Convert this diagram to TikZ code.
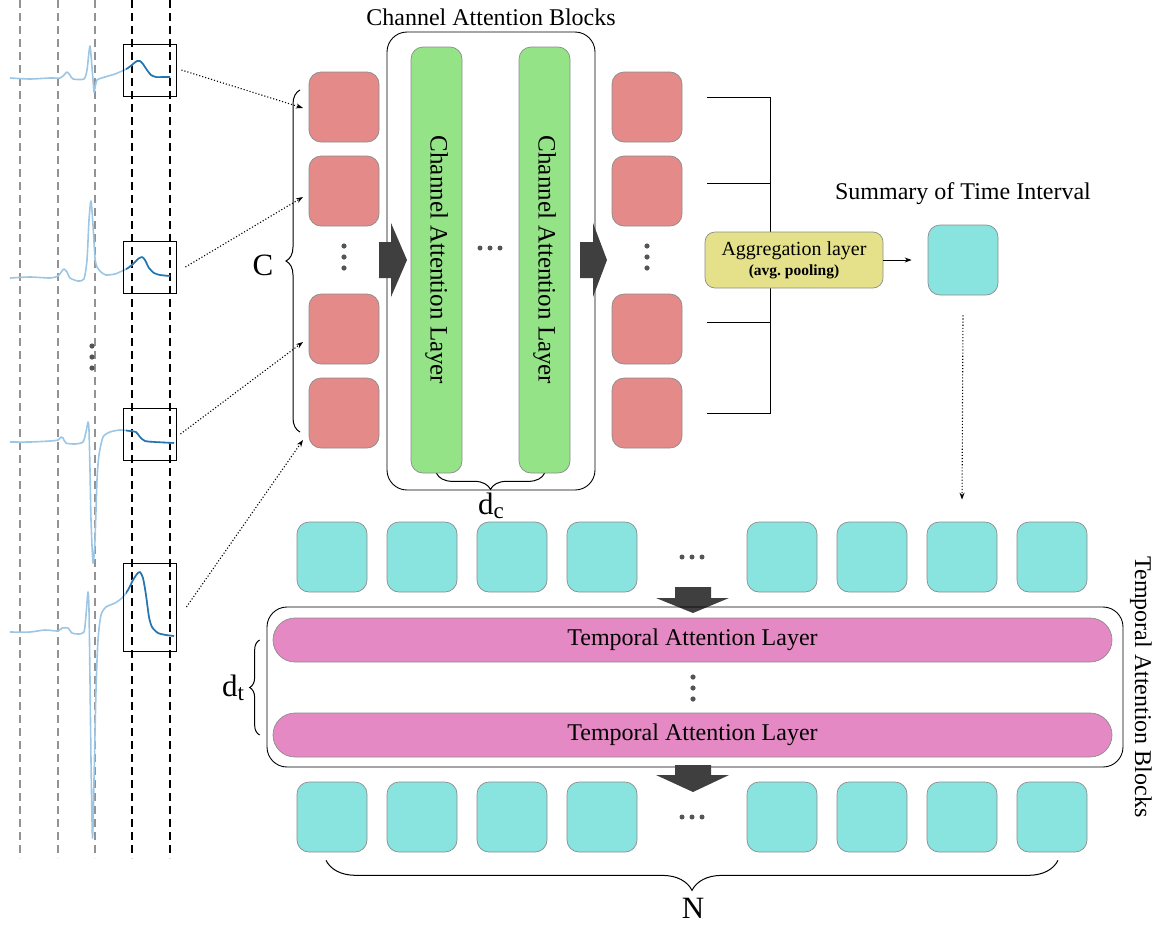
\documentclass[tikz,border=0pt]{standalone}
\usepackage{fontspec}
\setmainfont{Liberation Serif}
\usepackage{tikz}
\usetikzlibrary{positioning, arrows.meta, decorations.pathreplacing}

\definecolor{redtok}{HTML}{E48A88}
\definecolor{cyantok}{HTML}{89E4E0}
\definecolor{greenbar}{HTML}{94E387}
\definecolor{pinkbar}{HTML}{E589C4}
\definecolor{aggfill}{HTML}{E4E18A}
\definecolor{blockgray}{HTML}{3F3F3F}
\definecolor{dotgray}{HTML}{555555}
\definecolor{ecglight}{HTML}{9CC6E4}
\definecolor{ecgdark}{HTML}{2474B0}
\definecolor{edgegray}{HTML}{8C8C8C}

% ecg leads, one per channel
\def\leadone{plot[smooth, tension=.4] coordinates {(10,78) (30,79) (50,78) (60,78) (64,75) (67,72) (70,75) (73,79) (84,79) (87,70) (89,52) (90,46) (91,55) (93,80) (94,92) (95,88) (97,80) (105,77) (115,74) (122,71) (128,68) (133,64) (137,61) (140,61) (143,64) (147,70) (151,75) (156,77) (163,77) (170,77)}}
\def\leadtwo{plot[smooth, tension=.4] coordinates {(10,278) (30,277) (50,278) (58,276) (62,271) (64,269) (67,272) (70,278) (78,281) (84,279) (87,260) (89,220) (91,201) (93,225) (95,258) (97,267) (101,272) (106,275) (115,274) (122,271) (128,268) (133,264) (138,259) (142,257) (145,260) (149,268) (154,273) (160,275) (170,276)}}
\def\leadthree{plot[smooth, tension=.4] coordinates {(10,442) (30,442) (50,441) (58,440) (61,437) (63,438) (66,443) (75,444) (83,442) (86,432) (88,422) (89,430) (90,470) (91,520) (93,563) (95,540) (97,480) (99,455) (103,437) (110,432) (120,430) (130,431) (136,432) (140,437) (145,441) (155,442) (174,443)}}
\def\leadfour{plot[smooth, tension=.4] coordinates {(10,632) (30,632) (45,630) (58,631) (62,628) (68,628) (72,633) (78,634) (84,632) (86,615) (88,592) (89,610) (90,680) (91,760) (92.5,838) (94,780) (96,690) (98,640) (101,615) (106,607) (115,603) (122,598) (128,590) (133,580) (137,574) (140,572) (143,578) (146,595) (149,617) (152,627) (158,633) (166,635) (174,636)}}

% letter with a large lowered index
\newcommand{\bigidx}[2]{#1\raisebox{-0.32ex}{\fontsize{23}{23}\selectfont #2}}

\tikzset{
  gridline/.style={dashed, dash pattern=on 8pt off 5pt, line width=1.3pt},
  ecg/.style={line width=1.6pt, line join=round},
  window/.style={draw, line width=0.9pt, inner sep=0pt, minimum width=53pt},
  token/.style={rectangle, rounded corners=12pt, draw=edgegray, line width=0.7pt,
    minimum width=70pt, minimum height=70pt, inner sep=0pt},
  chtok/.style={token, fill=redtok},
  ttok/.style={token, fill=cyantok},
  frame/.style={draw, line width=0.9pt, rounded corners=20pt, inner sep=0pt},
  calayer/.style={rectangle, rounded corners=12pt, draw=edgegray, fill=greenbar,
    line width=0.7pt, rotate=-90, minimum width=426pt, minimum height=51pt,
    font=\fontsize{25}{29}\selectfont},
  talayer/.style={rectangle, rounded corners=22pt, draw=edgegray, fill=pinkbar,
    line width=0.7pt, minimum width=839pt, minimum height=44pt,
    font=\fontsize{24}{28}\selectfont},
  title/.style={font=\fontsize{24}{28}\selectfont},
  biglabel/.style={font=\fontsize{31}{35}\selectfont},
  feed/.style={->, dotted, line width=1.1pt},
  brace/.style={decorate, line width=1pt},
  vdotpic/.pic={\foreach \d in {-11,0,11} \fill[dotgray] (0,\d) circle (2.6pt);},
  hdotpic/.pic={\foreach \d in {-10,0,10} \fill[dotgray] (\d,0) circle (2.5pt);}
}

\begin{document}
\begin{tikzpicture}[x=1pt, y=-1pt, on grid, node distance=90pt,
    >={Stealth[length=7pt, width=5pt]}]
  \useasboundingbox (0,0) rectangle (1156,924);

  % time grid behind the leads
  \foreach \x in {20,58,95}
    \draw[gridline, gray!85] (\x,0) -- (\x,858);
  \foreach \x in {132,170}
    \draw[gridline, black] (\x,0) -- (\x,858);

  % leads, the current interval in dark
  \draw[ecg, ecglight] \leadone;
  \draw[ecg, ecglight] \leadtwo;
  \draw[ecg, ecglight] \leadthree;
  \draw[ecg, ecglight] \leadfour;
  \begin{scope}
    \clip (126,0) rectangle (176,924);
    \draw[ecg, ecgdark] \leadone;
    \draw[ecg, ecgdark] \leadtwo;
    \draw[ecg, ecgdark] \leadthree;
    \draw[ecg, ecgdark] \leadfour;
  \end{scope}

  \node[window, minimum height=52pt] (w1) at (149.5,70) {};
  \node[window, minimum height=52pt] (w2) at (149.5,267) {};
  \node[window, minimum height=52pt] (w3) at (149.5,434) {};
  \node[window, minimum height=88pt] (w4) at (149.5,607) {};
  \pic at (92,357) {vdotpic};

  % channel tokens
  \node[chtok] (in1) at (344,107) {};
  \node[chtok] (in2) [below=84pt of in1] {};
  \node[coordinate, below=66pt of in2] (indots) {};
  \node[chtok] (in3) [below=138pt of in2] {};
  \node[chtok] (in4) [below=84pt of in3] {};
  \pic at (indots) {vdotpic};

  \coordinate (c1) at (303,108);
  \coordinate (c2) at (303,197);
  \coordinate (c3) at (303,342);
  \coordinate (c4) at (303,440);
  \draw[feed] ([xshift=5pt]w1.east) -- (c1);
  \draw[feed] ([xshift=9pt]w2.east) -- (c2);
  \draw[feed] ([xshift=4pt]w3.east) -- (c3);
  \draw[feed] ([xshift=10pt]w4.east) -- (c4);

  \draw[brace, decoration={brace, amplitude=14pt}] (300,432) -- (300,90);
  \node[biglabel] (clabel) at (263,265) {C};

  % channel attention blocks
  \node[frame, minimum width=208pt, minimum height=458pt] (cab) at (491,261) {};
  \node[title] (cabt) at (491,17) {Channel Attention Blocks};
  \node[calayer] (cal1) at (436.5,260) {Channel Attention Layer};
  \node[calayer] (cal2) at (544.5,260) {Channel Attention Layer};
  \pic at (490,248) {hdotpic};
  \draw[brace, decoration={brace, amplitude=16pt}] (cal2.east) -- (cal1.east);
  \node[biglabel] (dclabel) at (491,506) {\bigidx{d}{c}};

  \fill[blockgray] (379,242) -- (391,242) -- (391,223) -- (407,260)
    -- (391,297) -- (391,278) -- (379,278) -- cycle;
  \fill[blockgray] (580,242) -- (593,242) -- (593,223) -- (607,260)
    -- (593,297) -- (593,278) -- (580,278) -- cycle;

  \node[chtok] (out1) [right=303pt of in1] {};
  \node[chtok] (out2) [right=303pt of in2] {};
  \node[chtok] (out3) [right=303pt of in3] {};
  \node[chtok] (out4) [right=303pt of in4] {};
  \pic at (647,257) {vdotpic};

  % pooling over channels
  \coordinate (h1) at (707,97);
  \coordinate (h2) at (707,183);
  \coordinate (h3) at (707,322);
  \coordinate (h4) at (707,413);
  \draw[line width=0.9pt] (h1) -- ++(63,0) -- ++(0,316) -- (h4);
  \draw[line width=0.9pt] (h2) -- ++(63,0);
  \draw[line width=0.9pt] (h3) -- ++(63,0);
  \node[rectangle, rounded corners=10pt, draw=edgegray, fill=aggfill, line width=0.7pt,
    minimum width=178pt, minimum height=56pt, align=center, inner sep=0pt,
    font=\fontsize{20}{20}\selectfont]
    (agg) at (794,260) {Aggregation layer\\[0pt]
    {\fontsize{15.5}{17}\selectfont\bfseries (avg.\ pooling)}};

  \node[ttok] (sum) at (963,260) {};
  \node[title] (sumt) at (963,194) {Summary of Time Interval};
  \draw[->, line width=0.9pt] (agg) -- ([xshift=-16pt]sum.west);

  % interval tokens
  \node[ttok] (t1) at (332,557) {};
  \node[ttok] (t2) [right of=t1] {};
  \node[ttok] (t3) [right of=t2] {};
  \node[ttok] (t4) [right of=t3] {};
  \node[coordinate, right of=t4] (tdots) {};
  \node[ttok] (t5) [right of=tdots] {};
  \node[ttok] (t6) [right of=t5] {};
  \node[ttok] (t7) [right of=t6] {};
  \node[ttok] (t8) [right of=t7] {};
  \pic at (tdots) {hdotpic};
  \draw[feed] ([yshift=-20pt]sum.south) -- ([yshift=22pt]t7.north);

  % temporal attention blocks
  \fill[blockgray] (675,587) -- (711,587) -- (711,598) -- (729,598) -- (693,613)
    -- (656,598) -- (675,598) -- cycle;
  \node[frame, minimum width=856pt, minimum height=160pt] (tab) at (695,687) {};
  \node[talayer] (tal1) at (692.5,640) {Temporal Attention Layer};
  \node[talayer] (tal2) at (692.5,735) {Temporal Attention Layer};
  \pic at (693,688) {vdotpic};
  \node[title, rotate=-90] (tabt) at (1141,687) {Temporal Attention Blocks};
  \draw[brace, decoration={brace, amplitude=10pt}]
    ([xshift=-13pt]tal2.west) -- ([xshift=-13pt]tal1.west);
  \node[biglabel] (dtlabel) at (233,688) {\bigidx{d}{t}};

  \fill[blockgray] (675,765) -- (711,765) -- (711,775) -- (729,775) -- (693,792)
    -- (656,775) -- (675,775) -- cycle;

  \node[ttok] (b1) at (332,817) {};
  \node[ttok] (b2) [right of=b1] {};
  \node[ttok] (b3) [right of=b2] {};
  \node[ttok] (b4) [right of=b3] {};
  \node[coordinate, right of=b4] (bdots) {};
  \node[ttok] (b5) [right of=bdots] {};
  \node[ttok] (b6) [right of=b5] {};
  \node[ttok] (b7) [right of=b6] {};
  \node[ttok] (b8) [right of=b7] {};
  \pic at (bdots) {hdotpic};

  \draw[brace, decoration={brace, amplitude=30pt}]
    ([xshift=6pt, yshift=-8pt]b8.south) -- ([xshift=-6pt, yshift=-8pt]b1.south);
  \node[biglabel] (nlabel) at (693,908) {N};
\end{tikzpicture}
\end{document}
